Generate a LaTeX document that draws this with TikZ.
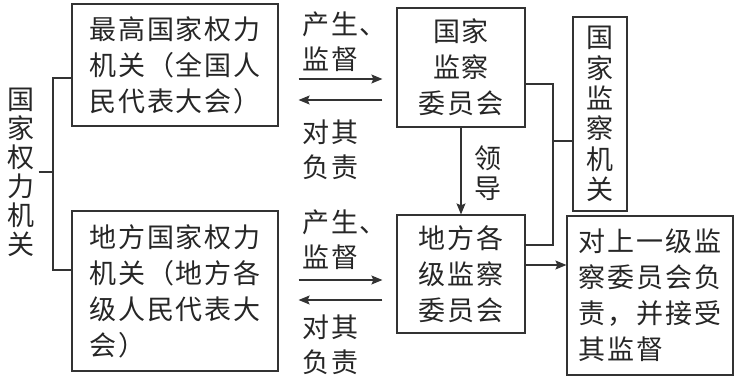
\documentclass[tikz,border=0pt]{standalone}
\usepackage{fontspec}
\newfontfamily\cjk{Noto Sans CJK SC}[LetterSpace=7]
\usetikzlibrary{arrows.meta}
\begin{document}
\begin{tikzpicture}[x=1pt,y=-1pt,
  ink/.style={draw=black!80, line width=1.2pt},
  box/.style={ink, inner sep=0pt, text=black!85, align=left, font=\cjk\fontsize{27}{36}\selectfont},
  lbl/.style={inner sep=0pt, text=black!85, align=left, font=\cjk\fontsize{27}{35}\selectfont},
  vlbl/.style={inner sep=0pt, text=black!85, align=center, font=\cjk\fontsize{27}{30}\selectfont},
  arr/.style={ink, -{Stealth[length=11pt,width=9pt,inset=2pt]}}]
\useasboundingbox (0,0) rectangle (734,382);
% boxes
\node[box, minimum width=206pt, minimum height=122pt] (A) at (175,65) {最高国家权力\\机关（全国人\\民代表大会）};
\node[box, minimum width=206pt, minimum height=160pt] (B) at (175,291) {地方国家权力\\机关（地方各\\级人民代表大\\会）};
\node[box, align=center, minimum width=128pt, minimum height=119pt] (C) at (461,67.5) {国家\\监察\\委员会};
\node[box, align=center, minimum width=128pt, minimum height=118pt] (D) at (461,274) {地方各\\级监察\\委员会};
\node[box, font=\cjk\fontsize{27}{30.4}\selectfont, align=center, minimum width=54pt, minimum height=194pt] (E) at (600,114) {国\\家\\监\\察\\机\\关};
\node[box, minimum width=166pt, minimum height=159pt] (F) at (650,295.5) {对上一级监\\察委员会负\\责，并接受\\其监督};
% left label
\node[vlbl, font=\cjk\fontsize{27}{29}\selectfont] (L) at (21,172) {国\\家\\权\\力\\机\\关};
% labels
\node[lbl, anchor=north west] (p1) at (302,12) {产生、\\监督};
\node[lbl, anchor=north west] (r1) at (302,120) {对其\\负责};
\node[lbl, anchor=north west] (p2) at (302,210) {产生、\\监督};
\node[lbl, anchor=north west] (r2) at (302,315) {对其\\负责};
\node[vlbl] (ld) at (488,173) {领\\导};
% left bracket
\coordinate (lb) at (53,172);
\coordinate (lt) at (53,78);
\coordinate (lbb) at (53,270);
\draw[ink] (L.east |- lb) ++(4pt,0) -- (lb);
\draw[ink] (A.west |- lt) -- (lt) -- (lbb) -- (B.west |- lbb);
% arrows A <-> C
\draw[arr, shorten <=20pt, shorten >=14pt] ([yshift=-14pt]A.east) -- ([yshift=-14pt]A.east -| C.west);
\draw[arr, shorten <=14pt, shorten >=20pt] ([yshift=-35pt]A.east -| C.west) -- ([yshift=-35pt]A.east);
% arrows B <-> D
\draw[arr, shorten <=20pt, shorten >=14pt] ([yshift=11pt]B.east) -- ([yshift=11pt]B.east -| D.west);
\draw[arr, shorten <=14pt, shorten >=20pt] ([yshift=-9pt]B.east -| D.west) -- ([yshift=-9pt]B.east);
% C -> D
\draw[arr] (C.south) -- (D.north);
% right bracket
\coordinate (rt) at (553,84);
\coordinate (rb) at (553,245);
\coordinate (rm) at (553,141);
\draw[ink] (C.east |- rt) -- (rt) -- (rb) -- (D.east |- rb);
\draw[ink] (rm) -- (E.west |- rm);
% D -> F
\draw[arr] ([yshift=9pt]D.east) -- ([yshift=9pt]D.east -| F.west);
\end{tikzpicture}
\end{document}
